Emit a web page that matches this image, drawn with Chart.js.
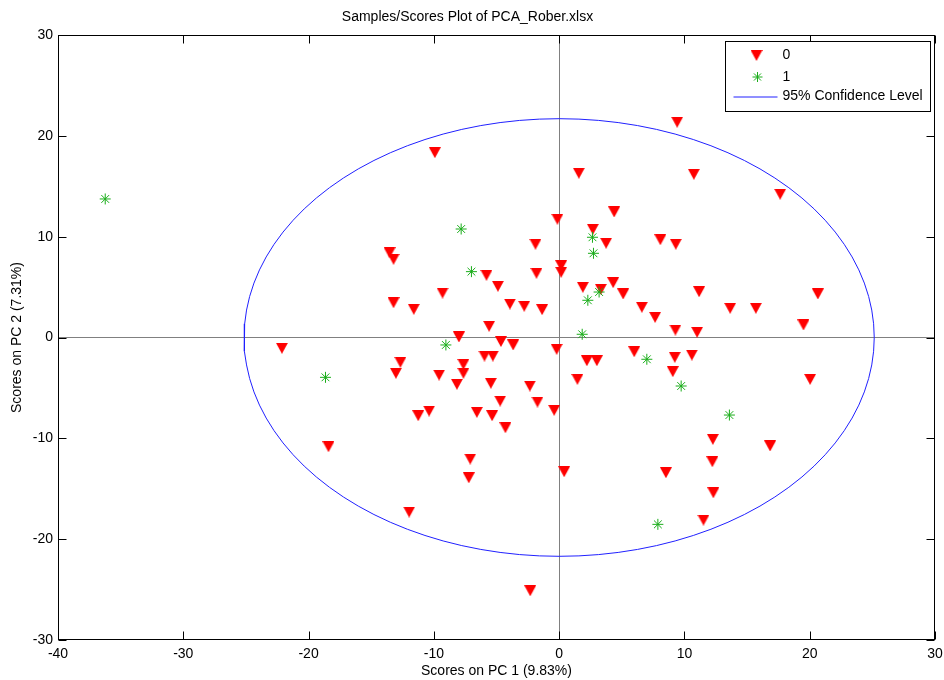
<!DOCTYPE html>
<html>
<head>
<meta charset="utf-8">
<title>Samples/Scores Plot of PCA_Rober.xlsx</title>
<script src="https://cdn.jsdelivr.net/npm/chart.js@4"></script>
<style>
  html, body { margin: 0; padding: 0; background: #fff; }
</style>
</head>
<body>
<canvas id="myChart" width="944" height="680"></canvas>
<script>
/* global Chart */

// class 0 samples: scores on PC 1 / PC 2
const class0X = [9.42, -9.92, 1.57, 10.75, 17.64, -0.14, 4.39, 2.69, 3.75, 8.08,
  9.31, -13.54, -13.22, -1.89, 0.16, 0.16, -1.81, -5.80, -4.89, 1.89,
  4.31, 3.33, 5.11, -9.31, -13.22, -11.60, -3.93, -2.79, -1.36, 6.60,
  7.66, 11.17, 13.65, 15.70, 20.65, 19.50, 9.28, 11.01, -5.59, -8.00,
  -22.13, -4.65, -3.67, -0.20, -5.96, -5.29, -7.64, -12.67, 2.21, 3.01,
  5.99, 9.23, 10.59, -13.03, -9.58, 9.07, 1.46, 20.03, -7.64, -8.16,
  -5.45, -2.34, -4.71, -1.73, -10.38, -11.25, -6.57, -5.35, -4.29, -0.40,
  12.27, 16.84, -18.41, -7.10, -7.21, 0.40, 12.23, 8.52, 12.31, 11.52,
  -11.97, -2.31];
const class0Y = [21.35, 18.33, 16.29, 16.19, 14.21, 11.73, 12.45, 10.73, 9.35, 9.70,
  9.25, 8.41, 7.76, 9.25, 7.12, 6.47, 6.37, 6.17, 5.08, 4.98,
  5.44, 4.78, 4.32, 4.41, 3.45, 2.80, 3.32, 3.10, 2.76, 3.00,
  2.00, 4.54, 2.90, 2.90, 4.32, 1.24, 0.74, 0.52, 1.11, 0.05,
  -1.07, -0.40, -0.74, -1.17, -1.84, -1.84, -2.66, -2.46, -2.30, -2.30,
  -1.41, -1.96, -1.74, -3.55, -3.72, -3.39, -4.15, -4.15, -3.55, -4.64,
  -4.54, -4.81, -6.30, -6.40, -7.29, -7.76, -7.42, -7.76, -8.95, -7.22,
  -10.10, -10.76, -10.83, -12.05, -13.91, -13.31, -12.32, -13.41, -15.40, -18.11,
  -17.31, -25.12];

// class 1 samples
const class1X = [-36.23, -7.82, 2.66, 2.74, -7.00, 2.29, 3.19, 1.84, -9.04, -18.65,
  7.00, 9.74, 13.59, 7.88];
const class1Y = [13.74, 10.76, 9.94, 8.35, 6.53, 3.69, 4.51, 0.32, -0.74, -3.95,
  -2.16, -4.81, -7.69, -18.53];

// 95% confidence ellipse (semi axes along PC 1 and PC 2)
const ellipseRx = 25.15;
const ellipseRy = 21.7;

const xTicks = [-40, -30, -20, -10, 0, 10, 20, 30];
const yTicks = [-30, -20, -10, 0, 10, 20, 30];

const FONT = "'Liberation Sans', Arial, Helvetica, sans-serif";
const RED = '#ff0000';
const GREEN = '#1aad1a';
const BLUE = '#2020ff';

Chart.defaults.color = '#000';
Chart.defaults.font.family = FONT;
Chart.defaults.font.size = 14;

function toPoints(xs, ys) {
  return xs.map((x, i) => ({ x: x, y: ys[i] }));
}

function ellipsePoints(rx, ry) {
  const pts = [];
  for (let i = 0; i <= 100; i++) {
    const t = (i / 100) * Math.PI * 2;
    pts.push({ x: rx * Math.cos(t), y: ry * Math.sin(t) });
  }
  return pts;
}

// downward triangle marker, centered on its bounding box
function triangleMarker(w, h, color) {
  const c = document.createElement('canvas');
  c.width = w;
  c.height = h;
  const g = c.getContext('2d');
  g.fillStyle = color;
  g.beginPath();
  g.moveTo(0, 0);
  g.lineTo(w, 0);
  g.lineTo(w / 2, h);
  g.closePath();
  g.fill();
  return c;
}
const triangle = triangleMarker(12, 11, RED);

// box around the axes with inward ticks on all four sides
const axesFrame = {
  id: 'axesFrame',
  afterDatasetsDraw(chart) {
    const { ctx, chartArea: a, scales } = chart;
    const L = Math.round(a.left) + 0.5, R = Math.round(a.right) - 0.5;
    const T = Math.round(a.top) + 0.5, B = Math.round(a.bottom) - 0.5;
    const len = 8;
    ctx.save();
    ctx.strokeStyle = '#000';
    ctx.lineWidth = 1;
    ctx.beginPath();
    xTicks.forEach(v => {
      const px = Math.round(scales.x.getPixelForValue(v)) + 0.5;
      ctx.moveTo(px, B); ctx.lineTo(px, B - len);
      ctx.moveTo(px, T); ctx.lineTo(px, T + len);
    });
    yTicks.forEach(v => {
      const py = Math.round(scales.y.getPixelForValue(v)) + 0.5;
      ctx.moveTo(L, py); ctx.lineTo(L + len, py);
      ctx.moveTo(R, py); ctx.lineTo(R - len, py);
    });
    ctx.stroke();
    ctx.strokeRect(L, T, R - L, B - T);
    ctx.restore();
  }
};

// legend box in the top right corner of the axes
const legendBox = {
  id: 'legendBox',
  afterDraw(chart) {
    const { ctx, chartArea: a } = chart;
    const ds = chart.data.datasets;
    const right = Math.round(a.right) - 4.5;
    const top = Math.round(a.top) + 6.5;
    const left = right - 205;
    const rowY = [top + 14, top + 35.5, top + 55];
    const textX = left + 57;
    ctx.save();
    ctx.fillStyle = '#fff';
    ctx.fillRect(left, top, right - left, 70);
    ctx.strokeStyle = '#000';
    ctx.lineWidth = 1;
    ctx.strokeRect(left, top, right - left, 70);

    ctx.drawImage(triangle, left + 25, rowY[0] - 5.5);

    ctx.strokeStyle = GREEN;
    ctx.fillStyle = GREEN;
    Chart.helpers.drawPoint(ctx, { pointStyle: 'star', radius: 5, borderWidth: 1, rotation: 0 },
      left + 32, rowY[1]);

    ctx.strokeStyle = BLUE;
    ctx.beginPath();
    ctx.moveTo(left + 8, rowY[2] + 0.5);
    ctx.lineTo(left + 52, rowY[2] + 0.5);
    ctx.stroke();

    ctx.fillStyle = '#000';
    ctx.font = '14px ' + FONT;
    ctx.textBaseline = 'middle';
    ctx.fillText(ds[0].label, textX, rowY[0]);
    ctx.fillText(ds[1].label, textX, rowY[1]);
    ctx.fillText(ds[2].label, textX, rowY[2]);
    ctx.restore();
  }
};

const ctx = document.getElementById('myChart').getContext('2d');
const myChart = new Chart(ctx, {
  type: 'scatter',
  data: {
    datasets: [{
      label: '0',
      data: toPoints(class0X, class0Y),
      pointStyle: triangle,
      order: 3
    }, {
      label: '1',
      data: toPoints(class1X, class1Y),
      pointStyle: 'star',
      pointRadius: 5.5,
      borderColor: GREEN,
      backgroundColor: GREEN,
      borderWidth: 1,
      order: 2
    }, {
      label: '95% Confidence Level',
      data: ellipsePoints(ellipseRx, ellipseRy),
      showLine: true,
      pointRadius: 0,
      borderColor: BLUE,
      borderWidth: 1,
      order: 1
    }]
  },
  options: {
    responsive: false,
    animation: false,
    events: [],
    layout: { padding: { top: 0, right: 9, bottom: 0, left: 0 } },
    plugins: {
      legend: { display: false },
      tooltip: { enabled: false },
      title: {
        display: true,
        text: 'Samples/Scores Plot of PCA_Rober.xlsx',
        color: '#000',
        font: { size: 14, weight: 'normal' },
        padding: { top: 9, bottom: 9.2 }
      }
    },
    scales: {
      x: {
        min: -40,
        max: 30,
        afterBuildTicks: s => { s.ticks = xTicks.map(v => ({ value: v })); },
        afterFit: s => {
          s.height = 40;
          s.paddingLeft = 0;
          s.paddingRight = 0;
        },
        ticks: { padding: 6, maxRotation: 0, autoSkip: false },
        grid: {
          drawTicks: false,
          color: c => (c.tick && c.tick.value === 0 ? '#808080' : 'rgba(0,0,0,0)')
        },
        border: { display: false },
        title: { display: true, text: 'Scores on PC 1 (9.83%)', padding: 0, font: { size: 14 } }
      },
      y: {
        min: -30,
        max: 30,
        afterBuildTicks: s => { s.ticks = yTicks.map(v => ({ value: v })); },
        afterFit: s => {
          s.width = 58;
          s.paddingTop = 0;
          s.paddingBottom = 0;
        },
        ticks: { padding: 5, autoSkip: false },
        grid: {
          drawTicks: false,
          color: c => (c.tick && c.tick.value === 0 ? '#808080' : 'rgba(0,0,0,0)')
        },
        border: { display: false },
        title: { display: true, text: 'Scores on PC 2 (7.31%)', padding: { top: 9, bottom: 0 }, font: { size: 14 } }
      }
    }
  },
  plugins: [axesFrame, legendBox]
});
</script>
</body>
</html>
